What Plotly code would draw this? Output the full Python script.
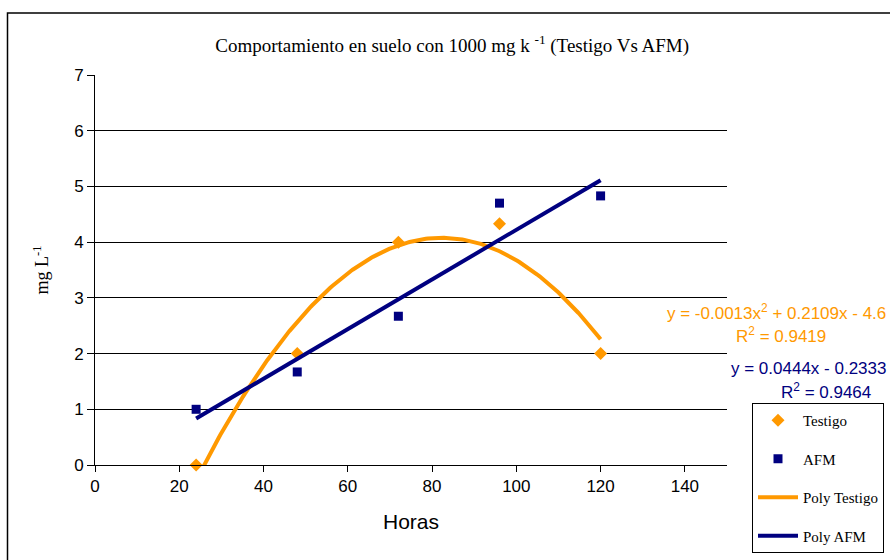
import numpy as np
import plotly.graph_objects as go

# Data
horas = [24, 48, 72, 96, 120]
testigo = [0.0, 2.0, 4.0, 4.33, 2.0]
afm = [1.0, 1.67, 2.67, 4.7, 4.83]
x_ticks = [0, 20, 40, 60, 80, 100, 120, 140]
y_ticks = [0, 1, 2, 3, 4, 5, 6, 7]

ORANGE = "#FF9900"
NAVY = "#000080"
SANS = "Liberation Sans, Arial"
SERIF = "Liberation Serif, Times New Roman"

# Trend lines (least squares fits of the data)
xf = np.linspace(min(horas), max(horas), 200)
p2 = np.polyfit(horas, testigo, 2)
p1 = np.polyfit(horas, afm, 1)
yf2 = np.polyval(p2, xf)
yf1 = np.polyval(p1, xf)

fig = go.Figure()
fig.add_trace(go.Scatter(x=horas, y=testigo, mode="markers", name="Testigo",
                         marker=dict(symbol="diamond", color=ORANGE, size=10),
                         legendgroup="a", cliponaxis=False))
fig.add_trace(go.Scatter(x=horas, y=afm, mode="markers", name="AFM",
                         marker=dict(symbol="square", color=NAVY, size=9),
                         legendgroup="b"))
fig.add_trace(go.Scatter(x=xf, y=yf2, mode="lines", name="Poly Testigo",
                         line=dict(color=ORANGE, width=4), legendgroup="c"))
fig.add_trace(go.Scatter(x=xf, y=yf1, mode="lines", name="Poly AFM",
                         line=dict(color=NAVY, width=4), legendgroup="d"))

# plot area pixel geometry
L, R, T, B = 95, 727, 75, 465
W, H = R - L, B - T
def px(x):
    return (x - L) / W
def py(y):
    return (B - y) / H

fig.add_shape(type="rect", xref="paper", yref="paper",
              x0=px(7.5), x1=px(900), y0=py(13), y1=py(575),
              line=dict(color="black", width=1.5), layer="below")

fig.add_annotation(xref="paper", yref="paper", x=px(888), y=py(312),
                   text="y = -0.0013x<sup>2</sup> + 0.2109x - 4.6", showarrow=False,
                   xanchor="right", yanchor="middle",
                   font=dict(family=SANS, size=17, color=ORANGE))
fig.add_annotation(xref="paper", yref="paper", x=px(781), y=py(335),
                   text="R<sup>2</sup> = 0.9419", showarrow=False,
                   xanchor="center", yanchor="middle",
                   font=dict(family=SANS, size=17, color=ORANGE))
fig.add_annotation(xref="paper", yref="paper", x=px(888), y=py(368),
                   text="y = 0.0444x - 0.2333", showarrow=False,
                   xanchor="right", yanchor="middle",
                   font=dict(family=SANS, size=17, color=NAVY))
fig.add_annotation(xref="paper", yref="paper", x=px(826), y=py(391),
                   text="R<sup>2</sup> = 0.9464", showarrow=False,
                   xanchor="center", yanchor="middle",
                   font=dict(family=SANS, size=17, color=NAVY))

fig.update_layout(
    width=890, height=560,
    margin=dict(l=L, r=890 - R, t=T, b=560 - B, autoexpand=False),
    paper_bgcolor="white", plot_bgcolor="white",
    title=dict(text="Comportamiento en suelo con 1000 mg k <sup>-1</sup> (Testigo Vs AFM)",
               x=0.508, xanchor="center", y=1 - 45 / 560, yanchor="middle",
               font=dict(family=SERIF, size=19, color="black")),
    xaxis=dict(range=[0, 150], tickvals=x_ticks, showgrid=False, zeroline=False,
               showline=True, linecolor="black", linewidth=1,
               ticks="outside", ticklen=6, tickcolor="black",
               tickfont=dict(family=SANS, size=17, color="black"),
               title=dict(text="Horas", standoff=18,
                          font=dict(family=SANS, size=21, color="black"))),
    yaxis=dict(range=[0, 7], tickvals=y_ticks, showgrid=True, gridcolor="black", gridwidth=1,
               zeroline=False, showline=True, linecolor="black", linewidth=1,
               ticks="outside", ticklen=7, tickcolor="black",
               tickfont=dict(family=SANS, size=17, color="black"),
               title=dict(text="mg L<sup>-1</sup>", standoff=20,
                          font=dict(family=SERIF, size=18, color="black"))),
    legend=dict(x=px(752), y=py(403), xanchor="left", yanchor="top",
                bordercolor="black", borderwidth=1, bgcolor="white",
                font=dict(family=SERIF, size=15, color="black"),
                tracegroupgap=16, traceorder="grouped", itemwidth=40, valign="top"),
    showlegend=True,
)

fig.write_html("out.html")
